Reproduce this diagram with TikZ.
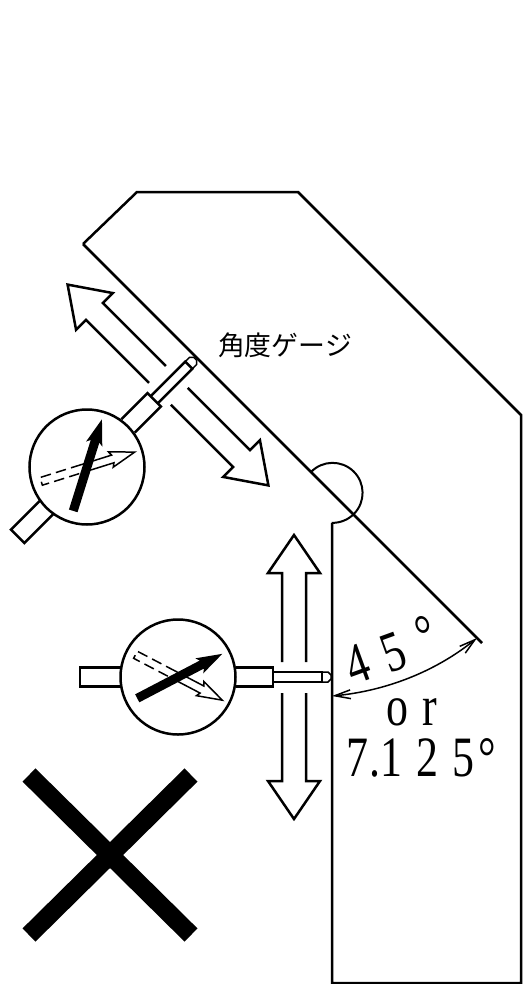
\documentclass[tikz,border=0pt]{standalone}
\usepackage{fontspec}
\setmainfont{Liberation Serif}
\newfontfamily\cjkfont{Noto Sans CJK JP}
\usetikzlibrary{arrows.meta}
\newcommand{\talltext}[1]{\scalebox{1}[1.3]{#1}}

\begin{document}
\begin{tikzpicture}[x=0.02cm,y=-0.02cm]
		\tikzset{outline/.style = {draw=black,line width=0.05cm,line join=miter}}
		\tikzset{thinline/.style = {draw=black,line width=0.03cm}}
		\tikzset{angletext/.style = {font=\fontsize{25}{25}\selectfont,inner sep=0pt}}
		\tikzset{gauge/.pic = {
			\draw[outline] (0,0) circle[radius=57.5];
			\draw[outline] (-57,-9.5) -- (-98,-9.5) -- (-98,9.5) -- (-57,9.5);
			\draw[outline] (58,-9.5) -- (95,-9.5) -- (95,9.5) -- (58,9.5);
			\draw[outline] (95,-5) -- (144,-5) -- (144,5) -- (95,5);
			\draw[thinline] (144,-5) -- (150,-5) -- (153,-2) -- (153,2) -- (150,5) -- (144,5);
			% dashed hand
			\begin{scope}[rotate=-27.6]
				\draw[thinline,dash pattern=on 6pt off 3pt] (-5,-4) -- (-48,-4) -- (-48,4) -- (-5,4);
				\draw[thinline] (-5,-4) -- (27,-4) -- (25,-8) -- (50,0) -- (25,8) -- (27,4) -- (-5,4);
			\end{scope}
			% black hand
			\begin{scope}[rotate=27.6]
				\fill (-46,-4.5) -- (27,-4.5) -- (24,-8.5) -- (50,0) -- (24,8.5) -- (27,4.5) -- (-46,4.5) -- cycle;
			\end{scope}
		}}
		\tikzset{travel/.pic = {
			\draw[outline] (-12,-15) -- (-12,-104) -- (-26,-104) -- (0,-142) -- (26,-104) -- (12,-104) -- (12,-15);
			\draw[outline] (-12,16) -- (-12,104) -- (-26,104) -- (0,142) -- (26,104) -- (12,104) -- (12,16);
		}}
		\useasboundingbox (0,0) rectangle (522,984);
		% block
		\draw[outline] (83,244) -- (137,192) -- (298,192) -- (521,415) -- (521,983) -- (332,983) -- (332,523);
		\draw[outline] (83,244) -- (482,643);
		\draw[thinline,line width=0.04cm] (311,472) arc[start angle=-136,end angle=92,radius=30];
		% gauges
		\pic[rotate=45] (gaugeA) at (87,467) {gauge};
		\pic (gaugeB) at (178,677) {gauge};
		\pic[rotate=45] (travelA) at (168,385) {travel};
		\pic (travelB) at (294,677) {travel};
		% angle
		\coordinate (wall) at (332,696);
		\coordinate (slope) at (477,638);
		\draw[thinline,{Straight Barb[length=9pt,width=5pt]}-{Straight Barb[length=9pt,width=5pt]}] (wall) .. controls (385,691) and (435,672) .. (slope);
		\node[angletext,rotate=20] (degA) at (391,650) {\talltext{4\kern9pt 5\kern10pt\raisebox{2pt}{°}}};
		\node[angletext] (orlabel) at (412,712) {\talltext{o\kern8pt r}};
		\node[angletext] (degB) at (421,758) {\talltext{7\kern1pt.1\kern8pt 2\kern8pt 5\kern2pt°}};
		\node[font=\cjkfont\fontsize{15.3}{15.3}\selectfont,inner sep=0pt] (gaugelabel) at (285,345) {角度ゲージ};
		% cross
		\draw[line width=0.37cm] (29,775) -- (191,935);
		\draw[line width=0.37cm] (191,775) -- (29,935);
\end{tikzpicture}
\end{document}
